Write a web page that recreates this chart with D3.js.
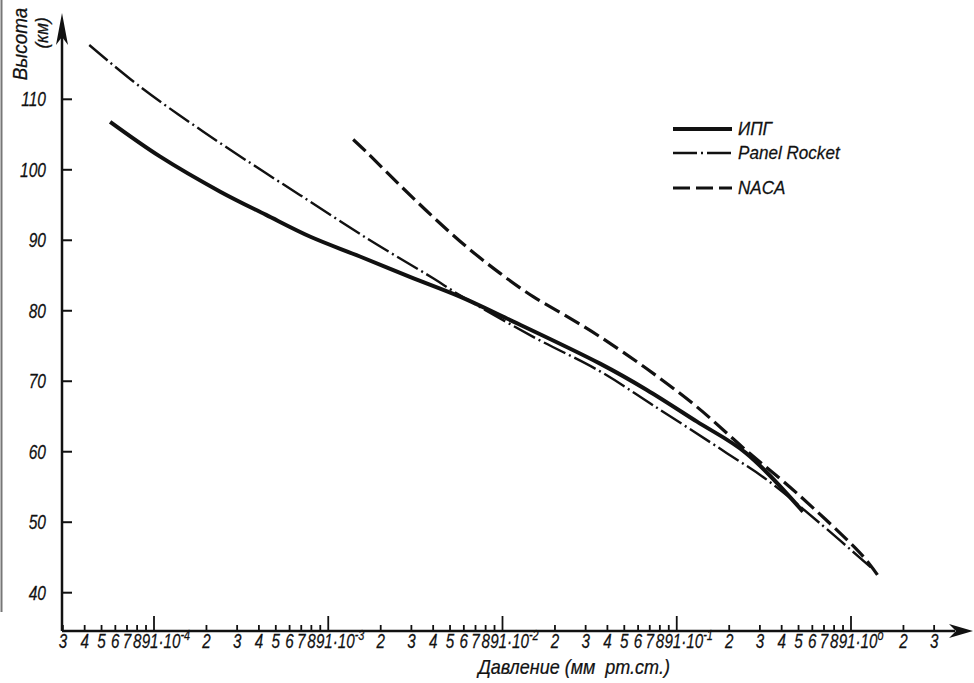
<!DOCTYPE html>
<html>
<head>
<meta charset="utf-8">
<script src="https://cdn.jsdelivr.net/npm/d3@7"></script>
<style>
  body { margin: 0; background: #fff; }
  text {
    font-family: "Liberation Sans", Arial, sans-serif;
    font-style: italic;
    fill: #111;
    stroke: #111;
    stroke-width: 0.25;
  }
</style>
</head>
<body>
<div id="chart"></div>
<script>
// pressure (mm Hg) and height (km)
var ipgP = [5.6e-5, 1.08e-4, 2.4e-4, 4.4e-4, 7.9e-4, 1.52e-3, 2.94e-3, 5.7e-3, 1.06e-2, 3.63e-2, 6.7e-2, 0.13, 0.25, 0.53];
var ipgH = [106.8, 101.9, 96.9, 93.6, 90.5, 87.7, 84.8, 82.0, 78.9, 72.5, 68.8, 64.3, 59.8, 51.5];

var rocketP = [4.25e-5, 8.3e-5, 1.92e-4, 4.4e-4, 6.9e-4, 1.66e-3, 4.0e-3, 5.7e-3, 1.5e-2, 3.63e-2, 7.3e-2, 0.194, 0.33, 0.66, 1.3];
var rocketH = [117.7, 111.8, 105.4, 99.5, 96.4, 90.3, 84.6, 82.2, 76.3, 71.4, 66.6, 59.8, 56.0, 49.9, 43.6];

var nacaP = [1.39e-3, 1.66e-3, 2.58e-3, 4.0e-3, 6.2e-3, 9.7e-3, 1.5e-2, 2.34e-2, 3.63e-2, 6.7e-2, 0.13, 0.25, 0.49, 1.18, 1.43];
var nacaH = [104.3, 102.5, 97.8, 93.3, 89.1, 85.3, 82.0, 79.2, 76.3, 71.8, 66.4, 60.2, 54.1, 45.1, 42.4];

var seriesNames = ["ИПГ", "Panel Rocket", "NACA"];
var yTicks = [40, 50, 60, 70, 80, 90, 100, 110];
var xExponents = [-5, -4, -3, -2, -1, 0];
var xMantissas = [1, 2, 3, 4, 5, 6, 7, 8, 9];
var xFirst = 3e-5, xLast = 3;

var width = 974, height = 683;

var svg = d3.select("#chart").append("svg")
    .attr("width", width)
    .attr("height", height);

var x = d3.scaleLog().domain([1e-4, 1]).range([154, 851]);
var y = d3.scaleLinear().domain([40, 110]).range([592.7, 99.3]);

var x0 = 62, yBase = 631, xEnd = 973, yTop = 13;

// narrow italic text like the drafting lettering
function label(g, tx, ty, s, size, sx, anchor) {
    return g.append("text")
        .attr("transform", `translate(${tx},${ty}) scale(${sx},1)`)
        .attr("text-anchor", anchor || "start")
        .attr("font-size", size)
        .text(s);
}

// scan edge on the left
svg.append("line")
    .attr("x1", 1.5).attr("x2", 1.5)
    .attr("y1", 0).attr("y2", 612)
    .attr("stroke", "#777").attr("stroke-width", 2);

// axes
svg.append("line")
    .attr("x1", x0).attr("x2", xEnd - 18)
    .attr("y1", yBase).attr("y2", yBase)
    .attr("stroke", "#111").attr("stroke-width", 2.5);
svg.append("line")
    .attr("x1", x0).attr("x2", x0)
    .attr("y1", yBase).attr("y2", yTop + 20)
    .attr("stroke", "#111").attr("stroke-width", 2.5);

svg.append("path")
    .attr("d", `M${x0},${yTop} L${x0 - 6},${yTop + 32} L${x0},${yTop + 24} L${x0 + 6},${yTop + 32} Z`)
    .attr("fill", "#111");
svg.append("path")
    .attr("d", `M${xEnd},${yBase} L${xEnd - 24},${yBase - 7} L${xEnd - 17},${yBase} L${xEnd - 24},${yBase + 7} Z`)
    .attr("fill", "#111");

// y ticks
var yt = svg.append("g");
yt.selectAll("line").data(yTicks).join("line")
    .attr("x1", x0).attr("x2", x0 + 10)
    .attr("y1", d => y(d)).attr("y2", d => y(d))
    .attr("stroke", "#111").attr("stroke-width", 2);
yTicks.forEach(d => label(yt, 46, y(d) + 7, d, 20, 0.78, "end"));

// x ticks
var xTicks = [];
xExponents.forEach(function(e) {
    xMantissas.forEach(function(m) {
        var v = m * Math.pow(10, e);
        if (v >= xFirst * 0.999 && v <= xLast * 1.001) xTicks.push({v: v, m: m, e: e});
    });
});

var xt = svg.append("g");
xt.selectAll("line").data(xTicks.filter(d => d.v > xFirst)).join("line")
    .attr("x1", d => x(d.v)).attr("x2", d => x(d.v))
    .attr("y1", yBase).attr("y2", d => d.m === 1 ? yBase - 15 : yBase - 6)
    .attr("stroke", "#111").attr("stroke-width", 1.8);

xTicks.forEach(function(d) {
    if (d.m !== 1) {
        label(xt, x(d.v), 648, d.m, 19.5, 0.78, "middle");
    } else {
        var t = label(xt, x(d.v) - 4, 648, "1·10", 19.5, 0.78, "start");
        t.append("tspan")
            .attr("dy", -8)
            .attr("font-size", 14)
            .text(d.e === 0 ? "o" : "-" + Math.abs(d.e));
    }
});

// axis titles
svg.append("text")
    .attr("transform", "translate(27,44) rotate(-90) scale(0.9,1)")
    .attr("text-anchor", "middle")
    .attr("font-size", 21)
    .text("Высота");
svg.append("text")
    .attr("transform", "translate(48,33) rotate(-90) scale(0.9,1)")
    .attr("text-anchor", "middle")
    .attr("font-size", 19)
    .text("(км)");
label(svg, 574, 674, "Давление (мм\u00a0\u00a0рт.ст.)", 20, 0.9, "middle");

// curves
var line = d3.line()
    .x(d => x(d[0]))
    .y(d => y(d[1]))
    .curve(d3.curveCatmullRom.alpha(0.5));

var styles = [
    {w: 4, dash: null},
    {w: 2.4, dash: "24,4,2,4"},
    {w: 3.2, dash: "17,6"}
];
var series = [
    d3.zip(ipgP, ipgH),
    d3.zip(rocketP, rocketH),
    d3.zip(nacaP, nacaH)
];

svg.append("g").selectAll("path").data(series).join("path")
    .attr("d", line)
    .attr("fill", "none")
    .attr("stroke", "#111")
    .attr("stroke-width", (d, i) => styles[i].w)
    .attr("stroke-dasharray", (d, i) => styles[i].dash)
    .attr("stroke-linecap", "butt");

// legend
var legY = [129, 153, 188];
var leg = svg.append("g");
leg.selectAll("line").data(seriesNames).join("line")
    .attr("x1", 673).attr("x2", 732)
    .attr("y1", (d, i) => legY[i]).attr("y2", (d, i) => legY[i])
    .attr("stroke", "#111")
    .attr("stroke-width", (d, i) => styles[i].w)
    .attr("stroke-dasharray", (d, i) => styles[i].dash);
seriesNames.forEach((d, i) => label(leg, 738, legY[i] + 6, d, 18, 0.95, "start"));
</script>
</body>
</html>
